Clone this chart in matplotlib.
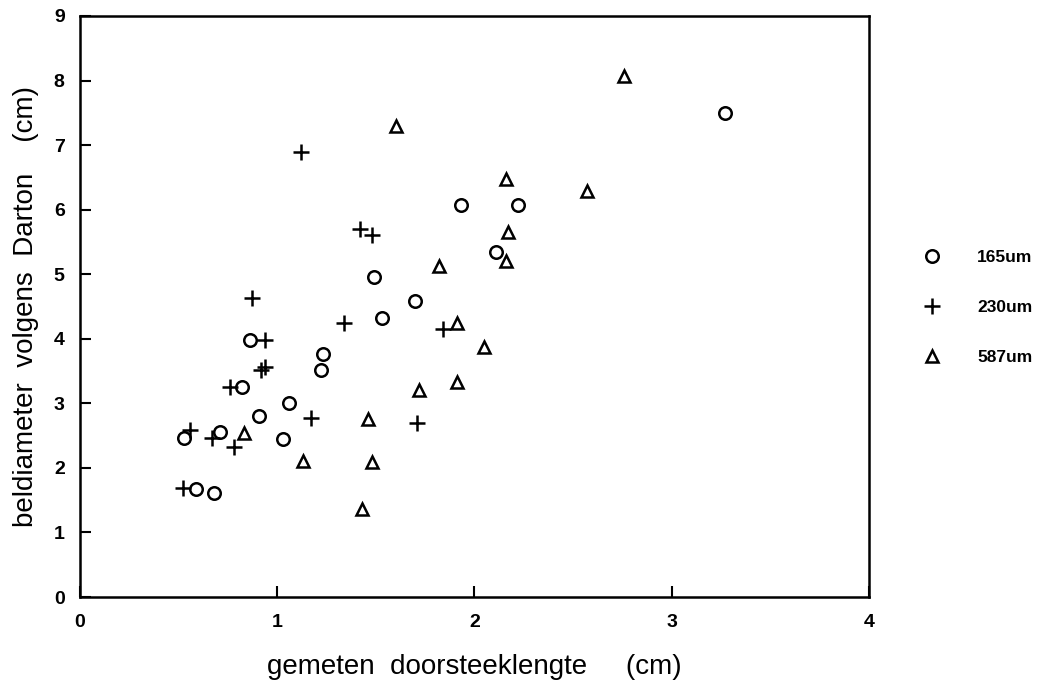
import numpy as np
import matplotlib
matplotlib.use("Agg")
import matplotlib.pyplot as plt

plt.rcParams["font.family"] = ["Liberation Sans", "DejaVu Sans"]

# 165um series (circles)
x_165 = [0.53, 0.59, 0.68, 0.71, 0.82, 0.86, 0.91, 1.03, 1.06, 1.22, 1.23,
         1.49, 1.53, 1.70, 1.93, 2.11, 2.22, 3.27]
y_165 = [2.46, 1.67, 1.61, 2.55, 3.25, 3.98, 2.81, 2.45, 3.01, 3.51, 3.77,
         4.96, 4.32, 4.59, 6.07, 5.34, 6.07, 7.49]

# 230um series (plus)
x_230 = [0.52, 0.56, 0.67, 0.76, 0.78, 0.87, 0.92, 0.94, 0.94, 1.12, 1.17,
         1.34, 1.42, 1.48, 1.71, 1.84]
y_230 = [1.69, 2.59, 2.47, 3.25, 2.33, 4.63, 3.52, 3.56, 3.98, 6.89, 2.77,
         4.25, 5.70, 5.61, 2.69, 4.15]

# 587um series (triangles)
x_587 = [0.83, 1.13, 1.43, 1.46, 1.48, 1.60, 1.72, 1.82, 1.91, 1.91, 2.05,
         2.16, 2.16, 2.17, 2.57, 2.76]
y_587 = [2.54, 2.11, 1.36, 2.75, 2.09, 7.30, 3.20, 5.12, 4.24, 3.33, 3.87,
         6.48, 5.20, 5.65, 6.29, 8.07]

labels = ["165um", "230um", "587um"]
x_ticks = [0, 1, 2, 3, 4]
y_ticks = [0, 1, 2, 3, 4, 5, 6, 7, 8, 9]

fig = plt.figure(figsize=(10.59, 6.86), dpi=100)
ax = fig.add_axes([0.0755, 0.1297, 0.745, 0.847])

ax.plot(x_165, y_165, "o", ms=9, mfc="none", mec="black", mew=1.8, label=labels[0])
ax.plot(x_230, y_230, "+", ms=11, mec="black", mew=1.8, label=labels[1])
ax.plot(x_587, y_587, "^", ms=9, mfc="none", mec="black", mew=1.8, label=labels[2])

ax.set_xlim(0, 4)
ax.set_ylim(0, 9)
ax.set_xticks(x_ticks)
ax.set_yticks(y_ticks)
ax.tick_params(direction="in", length=8, width=1.5, labelsize=14,
               top=False, right=False)
ax.tick_params(axis="x", pad=12)
ax.tick_params(axis="y", pad=11)
for lab in ax.get_xticklabels() + ax.get_yticklabels():
    lab.set_fontweight("bold")
for s in ax.spines.values():
    s.set_linewidth(1.8)

ax.set_xlabel("gemeten  doorsteeklengte     (cm)", fontsize=20, labelpad=17)
ax.set_ylabel("beldiameter  volgens  Darton    (cm)", fontsize=20, labelpad=11)

leg = fig.legend(loc="upper left", bbox_to_anchor=(0.849, 0.658), frameon=False,
                 labelspacing=2.0, handletextpad=1.6,
                 prop={"weight": "bold", "size": 12.5})

fig.savefig("out.png", dpi=100)
